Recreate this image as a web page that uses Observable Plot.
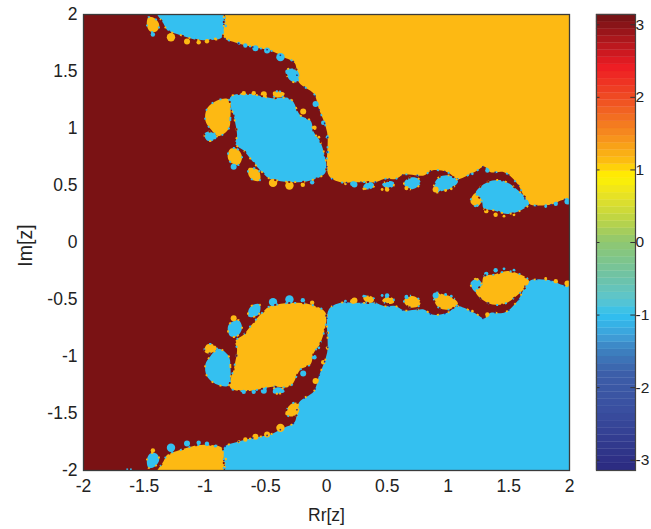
<!DOCTYPE html>
<html><head><meta charset="utf-8">
<script src="https://cdn.jsdelivr.net/npm/d3@7"></script>
<script src="https://cdn.jsdelivr.net/npm/@observablehq/plot@0.6"></script>
<style>
html,body{margin:0;padding:0;background:#fff}
#wrap{position:relative;width:651px;height:529px;overflow:hidden}
#wrap svg{position:absolute;top:0;background:transparent}
</style></head><body><div id="wrap"></div>
<script>
const axisTicks = [-2,-1.5,-1,-0.5,0,0.5,1,1.5,2];
const barTicks = [-3,-2,-1,0,1,2,3];
const DARK="#7a1214", YEL="#fdb913", BLU="#34c0f0", NAVY="#2b2a85";

// Upper half-plane regions (lower half is its mirror with colours swapped)
const yellowEdge=[[-.819,2.04],[-.835,1.962],[-.846,1.801],[-.736,1.751],[-.599,1.713],[-.462,1.684],[-.352,1.626],[-.262,1.575],[-.228,1.406],[-.104,1.304],[-.063,1.173],[.005,.968],[.019,.588],[.115,.529],[.225,.529],[.307,.529],[.403,.529],[.472,.558],[.568,.558],[.637,.596],[.747,.588],[.802,.588],[.870,.632],[.994,.617],[1.076,.558],[1.131,.573],[1.241,.632],[1.296,.667],[1.351,.617],[1.461,.617],[1.571,.515],[1.667,.339],[1.777,.325],[1.873,.339],[1.928,.368],[2.04,.398]];
const yellowCorners=[[2.04,2.04]];
const yellowLobes=[
 [[-.805,1.254],[-.791,1.085],[-.805,.997],[-.887,.933],[-.956,.997],[-.997,1.070],[-.984,1.173],[-.901,1.246]],
 [[-.791,.822],[-.736,.822],[-.695,.749],[-.723,.681],[-.791,.705],[-.813,.749]],
 [[-.640,.652],[-.558,.632],[-.549,.544],[-.599,.544],[-.640,.588]],
 [[-1.464,1.977],[-1.409,1.962],[-1.376,1.904],[-1.401,1.851],[-1.451,1.851],[-1.478,1.904]],
 [[1.219,.427],[1.277,.368],[1.241,.316],[1.186,.354]],
 [[-.44,1.32],[-.39,1.325],[-.345,1.31],[-.36,1.28],[-.43,1.275]]
];
const blueLobes=[
 [[-1.409,2.06],[-.874,2.06],[-.846,1.904],[-.860,1.801],[-.929,1.778],[-1.066,1.778],[-1.148,1.801],[-1.231,1.830],[-1.308,1.860],[-1.341,1.918]],
 [[-.791,1.275],[-.654,1.304],[-.448,1.266],[-.297,1.260],[-.214,1.114],[-.132,1.070],[-.104,.968],[-.049,.880],[-.008,.617],[-.132,.544],[-.269,.529],[-.407,.544],[-.475,.564],[-.544,.632],[-.626,.734],[-.681,.807],[-.750,.865],[-.736,.939],[-.758,1.085]],
 [[-1.005,.953],[-.970,.974],[-.901,.933],[-.929,.895],[-.984,.895]],
 [[-.338,1.509],[-.255,1.523],[-.223,1.465],[-.242,1.406],[-.297,1.421]],
 [[1.227,.433],[1.324,.529],[1.447,.544],[1.571,.462],[1.667,.339],[1.598,.281],[1.488,.251],[1.379,.281],[1.296,.295],[1.277,.368]],
 [[.884,.5],[.925,.573],[1.008,.588],[1.082,.538],[1.035,.48],[.966,.456],[.898,.441]],
 [[.637,.515],[.678,.567],[.76,.558],[.774,.515],[.719,.471],[.67,.471]],
 [[.458,.509],[.499,.538],[.554,.529],[.549,.491],[.499,.477]],
 [[.302,.485],[.335,.529],[.384,.52],[.39,.491],[.348,.465]]
];
const yellowBeadsLarge=[[-1.28,1.801],[-.44,.523],[-.305,.5]];
const yellowBeadsMid=[[-1.148,1.763],[-.516,1.301],[-.192,1.149],[.898,.465]];
const yellowBeadsSmall=[[-1.052,1.757],[-.984,1.766],[-.599,1.31],[-.681,1.31],[-.195,.506],[-.099,1.006],[.659,.477],[.499,.465],[1.315,.275],[1.392,.243]];
const yellowBeadsTiny=[[-.915,1.787],[-.063,.924],[.98,.456],[1.027,.471],[.458,.465],[.307,.471],[1.461,.231],[1.543,.243],[.156,.515]];
const blueBeadsLarge=[[-.379,1.626]];
const blueBeadsMid=[[-.764,.664],[-.489,1.684],[-.585,1.705],[-.09,1.216],[.23,.509],[1.983,.36]];
const blueBeadsSmall=[[-1.429,1.825],[-.118,.529],[-.668,1.728],[-.027,1.05],[.212,.515],[1.324,.632],[1.887,.339]];
const blueBeadsTiny=[[-.723,1.749],[.005,.924],[.011,.792],[1.2,.602],[1.804,.316],[1.241,.324],[-.84,1.97],[-.83,1.9]];
const bottomSpecks=[[-1.64,-1.99],[-1.61,-1.99]];

// Colour bar stops
const barStops=[-3.1416,-2.3,-1.8,-1.45,-1.3,-1.0,-.8,-.5,0,.3,.7,.9,1.1,1.5,2,2.42,3.1416];
const barColors=["#2b2a80","#3a4fa0","#3c5fa9","#3d86c4","#3f9fd8","#2fc0f0","#5bc5cf","#6dc3a8","#8fc771","#bcd446","#eee51f","#fff200","#fdc010","#f58a1f","#ef4a23","#ed1c24","#6f1215"];
const barLevels=64;

const P=d=>({x:d[0],y:d[1]});
const flip=d=>({x:d[0],y:-d[1]});
function blob(pts,fn,fill){return Plot.line(pts.map(fn),{x:"x",y:"y",fill,stroke:"none",curve:"catmull-rom-closed",clip:true});}
function fringe(pts,fn,closed,stroke,dash,width=1.8){return Plot.line(pts.map(fn),{x:"x",y:"y",fill:"none",stroke,strokeWidth:width,strokeDasharray:dash,strokeLinecap:"butt",curve:closed?"catmull-rom-closed":"catmull-rom",clip:true});}
function dots(pts,fn,r,fill){return Plot.dot(pts.map(fn),{x:"x",y:"y",r,fill,stroke:"none",clip:true});}

const basinFill=[...yellowEdge,...yellowCorners];
const marks=[
  Plot.frame({fill:DARK,stroke:"none"}),
  Plot.line(basinFill.map(P),{x:"x",y:"y",fill:YEL,stroke:"none",curve:"catmull-rom-closed",clip:true}),
  Plot.line(basinFill.map(flip),{x:"x",y:"y",fill:BLU,stroke:"none",curve:"catmull-rom-closed",clip:true}),
  ...blueLobes.map(l=>blob(l,P,BLU)), ...blueLobes.map(l=>blob(l,flip,YEL)),
  ...yellowLobes.map(l=>blob(l,P,YEL)), ...yellowLobes.map(l=>blob(l,flip,BLU)),
];
for(const [arr,r] of [[yellowBeadsLarge,4.2],[yellowBeadsMid,3],[yellowBeadsSmall,2.2],[yellowBeadsTiny,1.4]]){
  marks.push(dots(arr,P,r,YEL),dots(arr,flip,r,BLU));
}
for(const [arr,r] of [[blueBeadsLarge,4.2],[blueBeadsMid,3],[blueBeadsSmall,2.2],[blueBeadsTiny,1.4]]){
  marks.push(dots(arr,P,r,BLU),dots(arr,flip,r,YEL));
}
// speckled fringes along every basin boundary
marks.push(fringe(yellowEdge,P,false,BLU,"2 9"),fringe(yellowEdge,flip,false,YEL,"2 9"));
marks.push(fringe(yellowEdge,P,false,NAVY,"1.5 13",1.5),fringe(yellowEdge,flip,false,NAVY,"1.5 13",1.5));
for(const l of blueLobes){marks.push(fringe(l,P,true,YEL,"2 7"),fringe(l,flip,true,BLU,"2 7"));marks.push(fringe(l,P,true,DARK,"2 12"),fringe(l,flip,true,DARK,"2 12"));}
for(const l of yellowLobes){marks.push(fringe(l,P,true,BLU,"2 7"),fringe(l,flip,true,YEL,"2 7"));}
marks.push(Plot.dot(bottomSpecks.map(P),{x:"x",y:"y",r:1,symbol:"square",fill:BLU}));
marks.push(Plot.frame({stroke:"#3a3a3a",strokeWidth:1.3}));
marks.push(Plot.axisX(axisTicks,{anchor:"bottom",tickSize:0,tickPadding:9,tickFormat:d=>String(d),fontSize:17.5,label:null}));
marks.push(Plot.axisY(axisTicks,{anchor:"left",tickSize:0,tickPadding:6,tickFormat:d=>String(d),fontSize:17.5,label:null}));
marks.push(Plot.text(["Rr[z]"],{frameAnchor:"bottom",dy:50,fontSize:17.5,text:d=>d,fill:"#222"}));
marks.push(Plot.text(["Im[z]"],{frameAnchor:"left",dx:-58,dy:3,rotate:-90,textAnchor:"middle",fontSize:19.5,text:d=>d,fill:"#222"}));

const main=Plot.plot({
  width:600,height:529,marginLeft:83,marginRight:31,marginTop:14,marginBottom:59,
  style:{fontFamily:"'Liberation Sans',Arial,sans-serif",color:"#222",background:"transparent",overflow:"visible"},
  x:{domain:[-2,2],label:null},y:{domain:[-2,2],label:null},
  marks
});
main.style.left="0px";

const ramp=d3.scaleLinear().domain(barStops).range(barColors);
const step=2*Math.PI/barLevels;
const bands=d3.range(barLevels).map(i=>({lo:-Math.PI+i*step,hi:-Math.PI+(i+1)*step}));
const bar=Plot.plot({
  width:71,height:529,marginLeft:16,marginRight:16,marginTop:14,marginBottom:59,
  style:{fontFamily:"'Liberation Sans',Arial,sans-serif",color:"#222",background:"transparent",overflow:"visible"},
  x:{domain:[0,1],axis:null},y:{domain:[-Math.PI,Math.PI],label:null,axis:null},
  marks:[
    Plot.rect(bands,{x1:0,x2:1,y1:"lo",y2:"hi",fill:d=>ramp((d.lo+d.hi)/2),stroke:d=>ramp((d.lo+d.hi)/2),strokeWidth:.3}),
    Plot.ruleY(barTicks,{y:d=>d,x1:0,x2:.09,stroke:"#333"}),
    Plot.ruleY(barTicks,{y:d=>d,x1:.88,x2:1,stroke:"#333"}),
    Plot.frame({stroke:"#444",strokeWidth:1.2}),
    Plot.axisY(barTicks,{anchor:"right",tickSize:0,tickPadding:0,tickFormat:d=>String(d),fontSize:15.5,label:null})
  ]
});
bar.style.left="580px";
document.getElementById("wrap").append(main,bar);
</script></body></html>
